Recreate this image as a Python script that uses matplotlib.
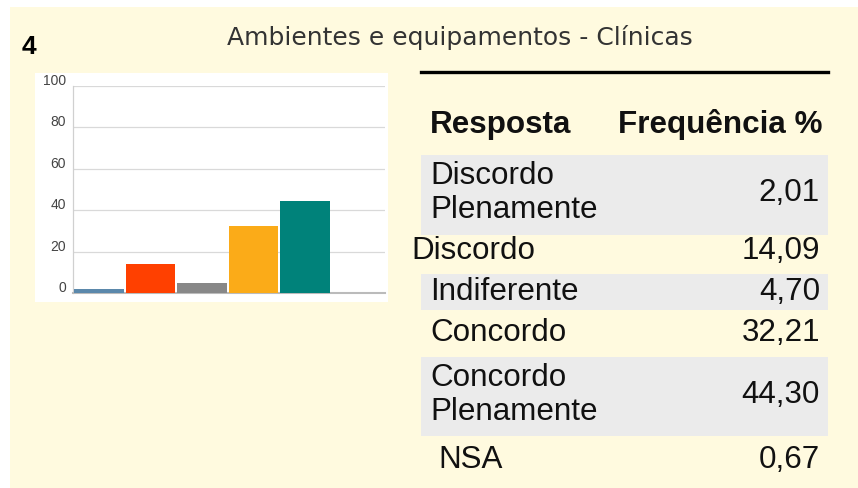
import matplotlib
matplotlib.use("Agg")
import matplotlib.pyplot as plt
from matplotlib.patches import Rectangle
from matplotlib.lines import Line2D
from matplotlib.transforms import ScaledTranslation

# ---- data ----
title = "Ambientes e equipamentos - Clínicas"
item_number = "4"
responses = ["Discordo\nPlenamente", "Discordo", "Indiferente", "Concordo",
             "Concordo\nPlenamente", "NSA"]
freq_labels = ["2,01", "14,09", "4,70", "32,21", "44,30", "0,67"]
freq_values = [2.01, 14.09, 4.70, 32.21, 44.30, 0.67]
bar_colors = ["#5b88ab", "#ff4000", "#888888", "#fbab18", "#00827a"]
y_ticks = [0, 20, 40, 60, 80, 100]

W, H = 858, 488
fig = plt.figure(figsize=(W / 100, H / 100), dpi=100)
fig.patch.set_facecolor("white")

def fx(px):
    return px / W

def fy(py):
    return 1 - py / H

# cream panel
fig.patches.append(Rectangle((fx(10), 0), fx(858 - 10), (488 - 7) / H,
                             transform=fig.transFigure, facecolor="#fffadf", edgecolor="none", zorder=-2))

# white chart box
fig.patches.append(Rectangle((fx(35), fy(302)), fx(388 - 35), (302 - 73) / H,
                             transform=fig.transFigure, facecolor="white", edgecolor="none", zorder=-1))

# header texts
fig.text(fx(22), fy(47), item_number, fontsize=19, fontweight="bold", color="black",
         ha="left", va="center", family="Liberation Sans")
fig.text(fx(460), fy(37), title, fontsize=18, color="#333333", ha="center", va="center",
         family="DejaVu Sans")

# bar chart axes
ax = fig.add_axes([fx(73), fy(293), fx(385 - 73), (293 - 86) / H])
ax.set_zorder(2)
ax.set_facecolor("none")
n_slots = len(responses)
xs = list(range(len(bar_colors)))
ax.bar(xs, freq_values[:len(bar_colors)], width=0.96, color=bar_colors, zorder=3)
ax.set_xlim(-0.5, n_slots - 0.45)
ax.set_ylim(0, 100)
ax.set_yticks(y_ticks)
ax.set_yticklabels([str(t) for t in y_ticks], fontsize=10, color="#444444", va="bottom",
                   family="Liberation Sans")
ax.tick_params(axis="y", length=0, pad=5)
offset = ScaledTranslation(0, -2 / 100, fig.dpi_scale_trans)
for lbl in ax.get_yticklabels():
    lbl.set_transform(lbl.get_transform() + offset)
ax.set_xticks([])
ax.grid(axis="y", color="#d9d9d9", linewidth=0.9, zorder=0)
for s in ["top", "right"]:
    ax.spines[s].set_visible(False)
ax.spines["left"].set_color("#d0d0d0")
ax.spines["left"].set_linewidth(0.9)
ax.spines["bottom"].set_color("#bbbbbb")
ax.spines["bottom"].set_linewidth(1.5)
ax.set_axisbelow(True)

# table
fig.add_artist(Line2D([fx(421), fx(828)], [fy(72), fy(72)], color="black", linewidth=2.4,
                      transform=fig.transFigure))
fs = 22.6
fam = "Liberation Sans"
fig.text(fx(430), fy(125), "Resposta", fontsize=fs, fontweight="bold", ha="left", va="center",
         family=fam, color="#111111")
fig.text(fx(822), fy(125), "Frequência %", fontsize=fs, fontweight="bold", ha="right", va="center",
         family=fam, color="#111111")

# row layout (pixel centers, band extents, label x)
row_centers = [193, 251, 292, 333, 395, 460]
row_bands = [(155, 235), None, (274, 310), None, (357, 436), None]
label_x = [430, 411, 430, 430, 430, 438]
for i, resp in enumerate(responses):
    band = row_bands[i]
    if band is not None:
        fig.patches.append(Rectangle((fx(421), fy(band[1])), fx(828 - 421), (band[1] - band[0]) / H,
                                     transform=fig.transFigure, facecolor="#ebebeb",
                                     edgecolor="none", zorder=-1))
    fig.text(fx(label_x[i]), fy(row_centers[i]), resp, fontsize=fs, ha="left", va="center",
             family=fam, color="#111111", linespacing=1.2)
    fig.text(fx(820), fy(row_centers[i]), freq_labels[i], fontsize=fs, ha="right", va="center",
             family=fam, color="#111111")

fig.savefig("out.png", dpi=100, facecolor=fig.get_facecolor())
